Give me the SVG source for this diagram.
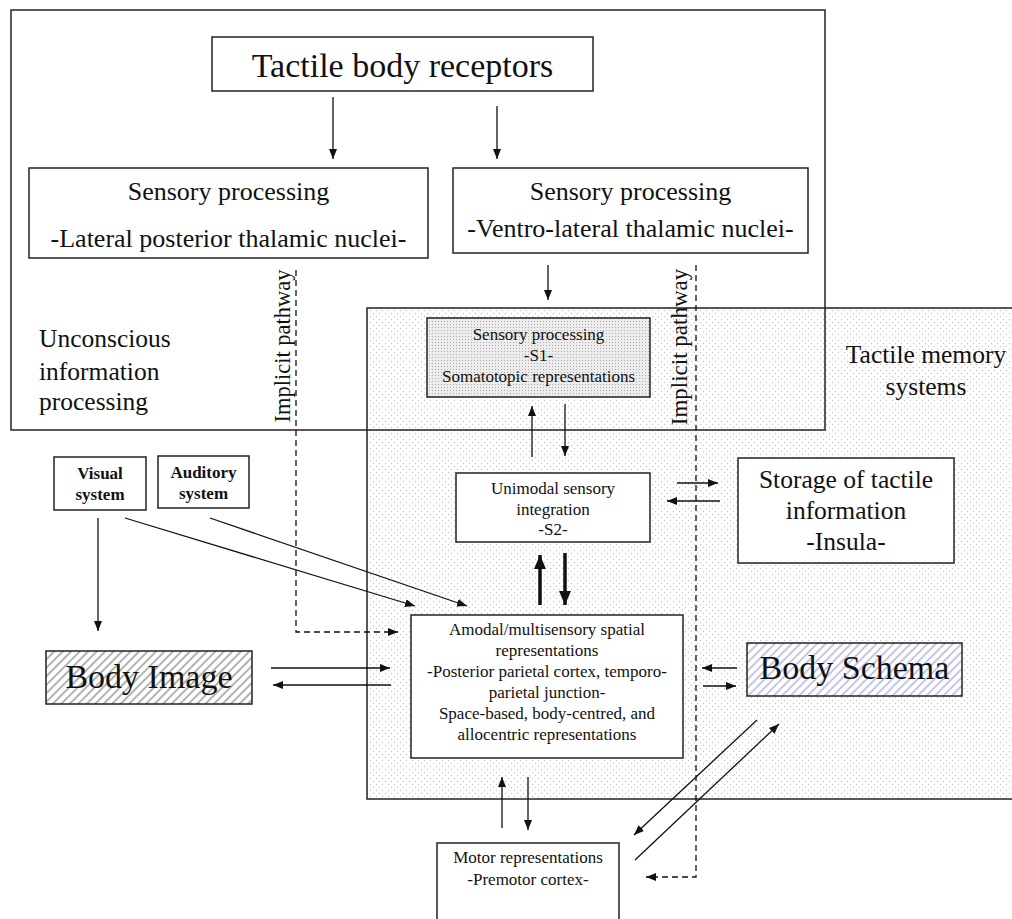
<svg xmlns="http://www.w3.org/2000/svg" width="1012" height="919" viewBox="0 0 1012 919">
<style>
.box{fill:#fff;stroke:#222;stroke-width:1.5}
.frame{fill:none;stroke:#222;stroke-width:1.5}
.t{font-family:"Liberation Serif","Times New Roman",serif;fill:#111}
.c{text-anchor:middle}
.big{font-size:34px}
.mid{font-size:25.5px}
.sm{font-size:17px}
.b{font-weight:bold}
.l{stroke:#111;stroke-width:1.3;fill:none}
.a{marker-end:url(#ah)}
.bold{stroke-width:3.5;marker-end:url(#ahb)}
.dash{stroke-dasharray:6 4}
</style>
<defs>
<marker id="ah" markerUnits="userSpaceOnUse" markerWidth="11" markerHeight="9" refX="10" refY="4" orient="auto"><path d="M0,0 L10,4 L0,8 z" fill="#111"/></marker>
<marker id="ahb" markerUnits="userSpaceOnUse" markerWidth="15" markerHeight="13" refX="14" refY="6" orient="auto"><path d="M0,0 L14,6 L0,12 z" fill="#111"/></marker>
<pattern id="dots" width="6" height="6" patternUnits="userSpaceOnUse"><rect width="6" height="6" fill="#fff"/><circle cx="1.5" cy="1.5" r="0.7" fill="#c4c4c4"/><circle cx="4.5" cy="4.5" r="0.7" fill="#c4c4c4"/></pattern>
<pattern id="stip" width="3" height="3" patternUnits="userSpaceOnUse"><rect width="3" height="3" fill="#ececec"/><rect width="1" height="1" fill="#b0b0b0"/></pattern>
<pattern id="hatchG" width="6" height="6" patternUnits="userSpaceOnUse" patternTransform="rotate(45)"><rect width="6" height="6" fill="#fff"/><line x1="1" y1="0" x2="1" y2="6" stroke="#a0a0a0" stroke-width="1.6"/></pattern>
<pattern id="hatchB" width="6" height="6" patternUnits="userSpaceOnUse" patternTransform="rotate(45)"><rect width="6" height="6" fill="#fff"/><line x1="1" y1="0" x2="1" y2="6" stroke="#b8b8e2" stroke-width="1.6"/></pattern>
</defs>
<rect width="1012" height="919" fill="#fff"/>

<g id="tactile-memory-systems">
<rect x="367" y="308" width="660" height="491" fill="url(#dots)" stroke="#222" stroke-width="1.5"/>
<text class="t mid c" x="926" y="363">Tactile memory</text>
<text class="t mid c" x="926" y="395">systems</text>
</g>

<g id="unconscious-processing">
<rect class="frame" x="11" y="10" width="814" height="420"/>
<text class="t mid" x="39" y="347">Unconscious</text>
<text class="t mid" x="39" y="380">information</text>
<text class="t mid" x="39" y="410">processing</text>
</g>

<g id="tactile-body-receptors">
<rect class="box" x="212" y="37" width="381" height="54"/>
<text class="t big c" x="402.5" y="77">Tactile body receptors</text>
</g>

<g id="sensory-lateral">
<rect class="box" x="29" y="168" width="399" height="90"/>
<text class="t c" style="font-size:26px" x="228.5" y="200">Sensory processing</text>
<text class="t c" style="font-size:26px" x="228.5" y="247">-Lateral posterior thalamic nuclei-</text>
</g>

<g id="sensory-ventro">
<rect class="box" x="453" y="168" width="355" height="85"/>
<text class="t c" style="font-size:26px" x="630.5" y="200">Sensory processing</text>
<text class="t c" style="font-size:26px" x="630.5" y="237">-Ventro-lateral thalamic nuclei-</text>
</g>

<g id="s1">
<rect x="427" y="318" width="223" height="79" fill="url(#stip)" stroke="#222" stroke-width="1.5"/>
<text class="t sm c" x="538.5" y="340">Sensory processing</text>
<text class="t sm c" x="538.5" y="361">-S1-</text>
<text class="t sm c" x="538.5" y="382">Somatotopic representations</text>
</g>

<g id="s2">
<rect class="box" x="456" y="473" width="194" height="69"/>
<text class="t sm c" x="553" y="494">Unimodal sensory</text>
<text class="t sm c" x="553" y="515">integration</text>
<text class="t sm c" x="553" y="535">-S2-</text>
</g>

<g id="storage">
<rect class="box" x="738" y="458" width="216" height="105"/>
<text class="t mid c" x="846" y="488">Storage of tactile</text>
<text class="t mid c" x="846" y="519">information</text>
<text class="t mid c" x="846" y="550">-Insula-</text>
</g>

<g id="visual-system">
<rect class="box" x="54" y="457" width="92" height="53"/>
<text class="t sm b c" x="100" y="479">Visual</text>
<text class="t sm b c" x="100" y="500">system</text>
</g>

<g id="auditory-system">
<rect class="box" x="158" y="456" width="91" height="52"/>
<text class="t sm b c" x="203.5" y="478">Auditory</text>
<text class="t sm b c" x="203.5" y="499">system</text>
</g>

<g id="body-image">
<rect x="46" y="651" width="206" height="53" fill="url(#hatchG)" stroke="#222" stroke-width="1.5"/>
<text class="t big c" x="149" y="688">Body Image</text>
</g>

<g id="amodal">
<rect class="box" x="411" y="615" width="272" height="143"/>
<text class="t sm c" x="547" y="635">Amodal/multisensory spatial</text>
<text class="t sm c" x="547" y="656">representations</text>
<text class="t sm c" x="547" y="677">-Posterior parietal cortex, temporo-</text>
<text class="t sm c" x="547" y="698">parietal junction-</text>
<text class="t sm c" x="547" y="719">Space-based, body-centred, and</text>
<text class="t sm c" x="547" y="740">allocentric representations</text>
</g>

<g id="body-schema">
<rect x="747" y="643" width="215" height="53" fill="url(#hatchB)" stroke="#222" stroke-width="1.5"/>
<text class="t big c" x="854.5" y="679">Body Schema</text>
</g>

<g id="motor">
<rect class="box" x="437" y="843" width="182" height="90"/>
<text class="t sm c" x="528" y="863">Motor representations</text>
<text class="t sm c" x="528" y="885">-Premotor cortex-</text>
</g>

<g id="connectors">
<line class="l a" x1="333" y1="97" x2="333" y2="159"/>
<line class="l a" x1="497" y1="106" x2="497" y2="159"/>
<line class="l a" x1="548" y1="265" x2="548" y2="300"/>
<line class="l a" x1="532" y1="457" x2="532" y2="406"/>
<line class="l a" x1="565" y1="404" x2="565" y2="456"/>
<line class="l a" x1="677" y1="483" x2="718" y2="483"/>
<line class="l a" x1="720" y1="501" x2="667" y2="501"/>
<line class="l bold" x1="540" y1="605" x2="540" y2="555"/>
<line class="l bold" x1="565" y1="553" x2="565" y2="605"/>
<line class="l a" x1="98" y1="518" x2="98" y2="631"/>
<line class="l a" x1="125" y1="518" x2="415" y2="606"/>
<line class="l a" x1="210" y1="518" x2="467" y2="606"/>
<line class="l a" x1="271" y1="668" x2="390" y2="668"/>
<line class="l a" x1="391" y1="685" x2="273" y2="685"/>
<line class="l a" x1="737" y1="668" x2="702" y2="668"/>
<line class="l a" x1="703" y1="686" x2="736" y2="686"/>
<line class="l a" x1="757" y1="720" x2="634" y2="835"/>
<line class="l a" x1="635" y1="860" x2="779" y2="724"/>
<line class="l a" x1="502" y1="828" x2="502" y2="777"/>
<line class="l a" x1="528" y1="777" x2="528" y2="830"/>
<path class="l a dash" d="M296,270 V632 H398"/>
<path class="l a dash" d="M696,265 V877 H646"/>
<text class="t c" style="font-size:22.5px" transform="translate(290,346) rotate(-90)">Implicit pathway</text>
<text class="t c" style="font-size:23px" transform="translate(687,347) rotate(-90)">Implicit pathway</text>
</g>
</svg>
